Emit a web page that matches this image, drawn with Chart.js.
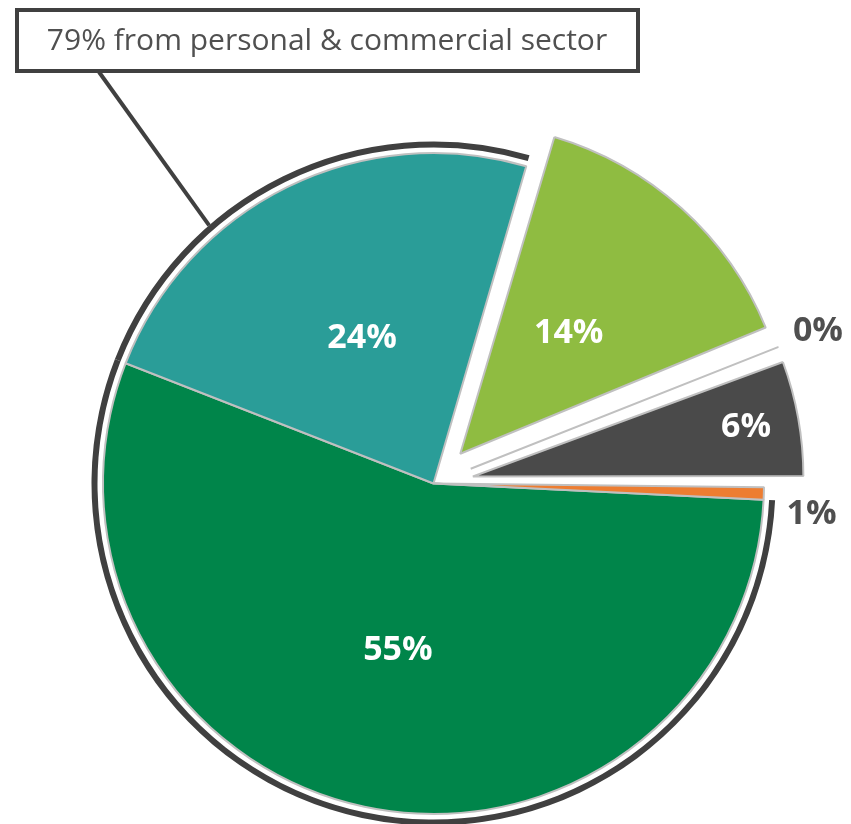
<!DOCTYPE html>
<html>
<head>
<meta charset="utf-8">
<script src="https://cdn.jsdelivr.net/npm/chart.js@4.4.0/dist/chart.umd.min.js"></script>
<style>
  body { margin: 0; background: #fff; }
  canvas { display: block; }
</style>
</head>
<body>
<canvas id="pie" width="851" height="824"></canvas>
<script>
const sectors = ["Personal", "Commercial", "Sector C", "Sector D", "Sector E", "Sector F"];
const shares = [55.15, 23.6, 14.3, 0.35, 6.0, 0.6];
// slices covered by the "79% from personal & commercial sector" callout
const inCallout = [true, true, false, false, false, false];
const calloutText = "79% from personal & commercial sector";

const sliceColors = ["#00854a", "#2a9d98", "#8fbc41", "#2a9d98", "#4a4a4a", "#ed7d31"];
const pulledOut = [0, 0, 160, 160, 160, 0];
const labelRadius = [0.515, 0.49, 0.49, 1.13, 0.84, 1.148];
const labelNudge = [0, 0, 0, 0, 0, 3];

// keep pulled-out slices at the same radius as the rest of the pie
const arcDraw = Chart.ArcElement.prototype.draw;
Chart.ArcElement.prototype.draw = function (ctx) {
  const shift = (this.options.offset || 0) / 4;
  const fix = 1 - Math.sin(Math.min(Math.PI, this.circumference || 0));
  const r = this.outerRadius;
  this.outerRadius = r - shift * fix;
  arcDraw.call(this, ctx);
  this.outerRadius = r;
};

const sliceLabels = {
  id: "sliceLabels",
  afterDatasetsDraw(chart) {
    const ctx = chart.ctx;
    const meta = chart.getDatasetMeta(2);
    ctx.save();
    ctx.font = "bold 34px 'Open Sans'";
    ctx.textAlign = "center";
    ctx.textBaseline = "middle";
    meta.data.forEach((arc, i) => {
      const mid = (arc.startAngle + arc.endAngle) / 2 + (labelNudge[i] * Math.PI) / 180;
      const dist = (arc.options.offset || 0) / 4 + arc.outerRadius * labelRadius[i];
      ctx.fillStyle = labelRadius[i] > 1 ? "#4f4f4f" : "#ffffff";
      ctx.fillText(Math.round(shares[i]) + "%", arc.x + Math.cos(mid) * dist, arc.y + Math.sin(mid) * dist);
    });
    ctx.restore();
  }
};

const callout = {
  id: "callout",
  afterDraw(chart) {
    const ctx = chart.ctx;
    const ring = chart.getDatasetMeta(0).data[0];
    const a = (229 * Math.PI) / 180;
    ctx.save();
    ctx.strokeStyle = "#404040";
    ctx.lineWidth = 4;
    ctx.beginPath();
    ctx.moveTo(99, 72);
    ctx.lineTo(ring.x + Math.cos(a) * ring.outerRadius, ring.y + Math.sin(a) * ring.outerRadius);
    ctx.stroke();
    ctx.fillStyle = "#fff";
    ctx.fillRect(17, 10, 621, 61);
    ctx.strokeRect(17, 10, 621, 61);
    ctx.fillStyle = "#505050";
    ctx.font = "30px 'Open Sans'";
    ctx.textAlign = "center";
    ctx.textBaseline = "middle";
    ctx.fillText(calloutText, 327, 41);
    ctx.restore();
  }
};

new Chart(document.getElementById("pie"), {
  type: "pie",
  data: {
    labels: sectors,
    datasets: [
      {
        data: shares,
        backgroundColor: inCallout.map((c) => (c ? "#404040" : "rgba(0,0,0,0)")),
        borderWidth: 0,
        weight: 6
      },
      {
        data: shares,
        backgroundColor: "rgba(0,0,0,0)",
        borderWidth: 0,
        weight: 5.5
      },
      {
        data: shares,
        backgroundColor: sliceColors,
        borderColor: "#c0c0c0",
        borderWidth: 2,
        offset: pulledOut,
        weight: 330.5
      }
    ]
  },
  options: {
    responsive: false,
    animation: false,
    events: [],
    rotation: 92.8,
    radius: 342,
    layout: { padding: { left: 16, top: 143 } },
    plugins: {
      legend: { display: false },
      tooltip: { enabled: false }
    }
  },
  plugins: [sliceLabels, callout]
});
</script>
</body>
</html>
